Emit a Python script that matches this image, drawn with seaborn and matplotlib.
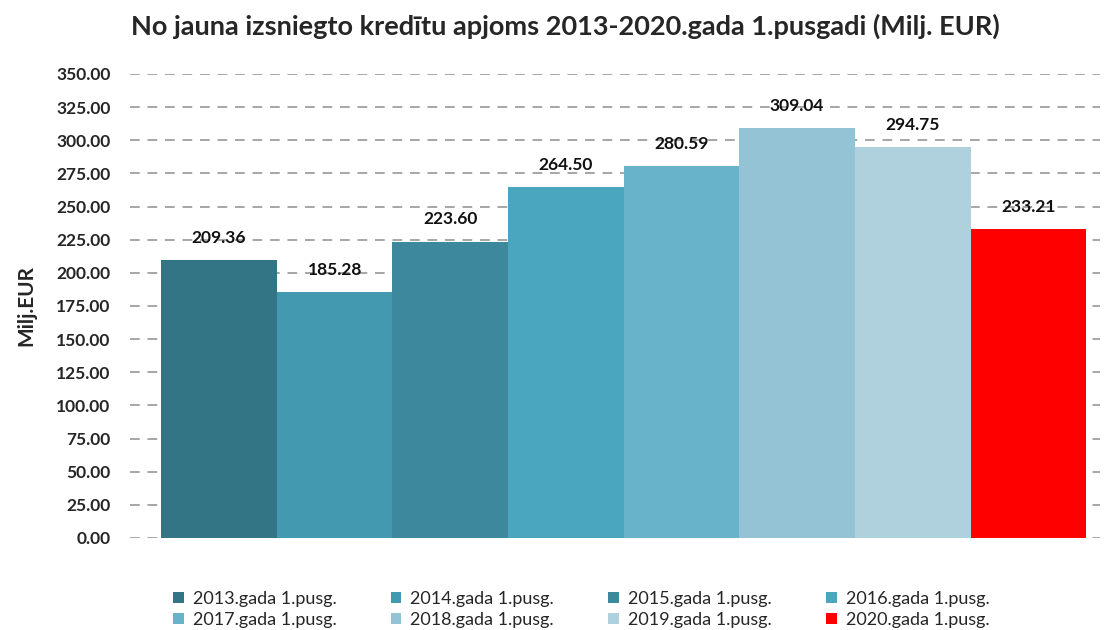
import matplotlib
matplotlib.use("Agg")
import matplotlib.pyplot as plt
from matplotlib.patches import Patch
import seaborn as sns
import pandas as pd

# data
labels = ["2013.gada 1.pusg.", "2014.gada 1.pusg.", "2015.gada 1.pusg.", "2016.gada 1.pusg.",
          "2017.gada 1.pusg.", "2018.gada 1.pusg.", "2019.gada 1.pusg.", "2020.gada 1.pusg."]
values = [209.36, 185.28, 223.60, 264.50, 280.59, 309.04, 294.75, 233.21]
colors = ["#337585", "#4399B0", "#3D889C", "#4AA6BF", "#68B3CA", "#93C3D4", "#AED1DD", "#FF0000"]
yticks = [0, 25, 50, 75, 100, 125, 150, 175, 200, 225, 250, 275, 300, 325, 350]

df = pd.DataFrame({"label": labels, "value": values})

sns.set_style("white")
plt.rcParams['font.family'] = ['Lato', 'DejaVu Sans']

fig = plt.figure(figsize=(11.05, 6.3), dpi=100)
ax = fig.add_axes([130 / 1105, 92 / 630, 970 / 1105, 464 / 630])

sns.barplot(data=df, x="label", y="value", hue="label", palette=colors,
            width=1.0, legend=False, saturation=1, linewidth=0, ax=ax, zorder=3)

ax.set_ylim(0, 350)
ax.set_xlim(-0.77, 7.62)
ax.set_yticks(yticks)
ax.set_yticklabels([f"{v:.2f}" for v in yticks], fontsize=12.5, fontweight="bold")
ax.set_xticks([])
ax.set_xlabel("")
ax.set_ylabel("Milj.EUR", fontsize=15, fontweight="bold", labelpad=14)
ax.tick_params(axis="y", length=0, pad=14)
ax.yaxis.grid(True, color="#A6A6A6", linestyle=(0, (5, 4)), linewidth=1.4, zorder=0)
ax.set_axisbelow(True)
sns.despine(ax=ax, left=True, bottom=True)

# value labels above bars
for i, v in enumerate(values):
    ax.annotate(f"{v:.2f}", (i, v), xytext=(0, 16), textcoords="offset points",
                ha="center", va="center", fontsize=12.5, fontweight="bold", color="#111111", zorder=5)

fig.suptitle("No jauna izsniegto kredītu apjoms 2013-2020.gada 1.pusgadi (Milj. EUR)",
             fontsize=19.5, fontweight="bold", x=0.512, y=0.978)

# legend: row-wise order in 4 columns
handles = [Patch(facecolor=c, edgecolor="none") for c in colors]
order = [0, 4, 1, 5, 2, 6, 3, 7]
fig.legend([handles[i] for i in order], [labels[i] for i in order], ncol=4,
           loc="lower center", bbox_to_anchor=(0.526, -0.022), frameon=False,
           fontsize=13, handlelength=0.6, handleheight=0.6, handletextpad=0.5,
           columnspacing=3.0, labelspacing=0.25)

fig.savefig("out.png", dpi=100)
